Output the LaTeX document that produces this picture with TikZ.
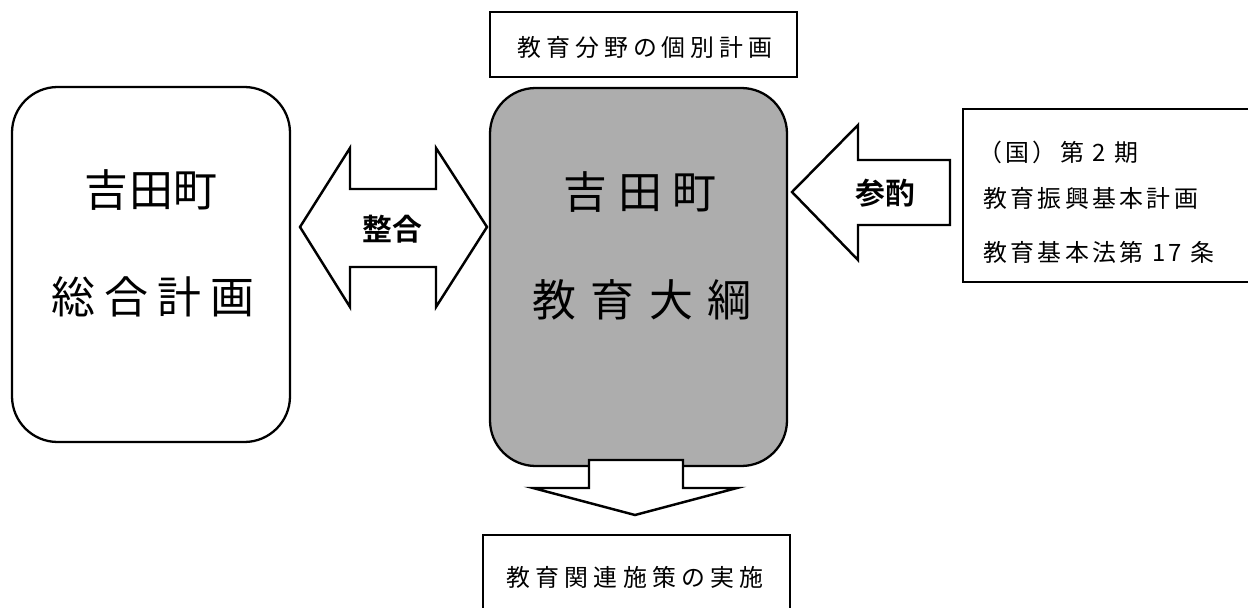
\documentclass[tikz,border=0pt]{standalone}
\usepackage{fontspec}
\newfontfamily\jp{Noto Sans CJK JP}
\newfontfamily\jpb{Noto Sans CJK JP Bold}
\tikzset{
  frame/.style={draw=black, line width=1.3pt},
  bigbox/.style={frame, rounded corners=26pt},
  arrowshape/.style={draw=black, line width=1.4pt, fill=white, line join=miter},
  bigtxt/.style={font=\jp\fontsize{25pt}{30pt}\selectfont, inner sep=0pt},
  smalltxt/.style={font=\jp\fontsize{13.6pt}{16pt}\selectfont, inner sep=0pt},
  boldtxt/.style={font=\jpb\fontsize{17pt}{20pt}\selectfont, inner sep=0pt},
}
\begin{document}
\begin{tikzpicture}[x=0.02cm,y=-0.02cm]
\useasboundingbox (0,0) rectangle (1248,608);
\clip (0,0) rectangle (1248,608);
% left box
\draw[bigbox] (12,87) rectangle (290,442);
\node[bigtxt] (l1) at (151,190) {\addfontfeature{LetterSpace=2}吉田町};
\node[bigtxt] (l2) at (153,297) {\addfontfeature{LetterSpace=20}総合計画};
% center box
\draw[bigbox, fill=black!32] (490,88) rectangle (787,466);
\node[bigtxt] (c1) at (640,192) {\addfontfeature{LetterSpace=25}吉田町};
\node[bigtxt] (c2) at (642,300) {\addfontfeature{LetterSpace=33}教育大綱};
% top box
\draw[frame] (490,12) rectangle (797,77);
\node[smalltxt] (top) at (645,47) {\addfontfeature{LetterSpace=21}教育分野の個別計画};
% double arrow
\draw[arrowshape] (300,227) -- (350,148) -- (350,189) -- (436,189) -- (436,148)
  -- (487,227) -- (436,307) -- (436,267) -- (350,267) -- (350,307) -- cycle;
\node[boldtxt] (seigo) at (392,229) {整合};
% left arrow (参酌)
\draw[arrowshape] (792,192) -- (858,125) -- (858,160) -- (950,160) -- (950,225)
  -- (858,225) -- (858,260) -- cycle;
\node[boldtxt] (sanshaku) at (885,193) {参酌};
% right box
\draw[frame] (963,109) rectangle (1260,282);
\node[smalltxt, anchor=west] (r1) at (978,152) {\addfontfeature{LetterSpace=14}（国）第 2 期};
\node[smalltxt, anchor=west] (r2) at (983,198) {\addfontfeature{LetterSpace=14}教育振興基本計画};
\node[smalltxt, anchor=west] (r3) at (983,252) {\addfontfeature{LetterSpace=14}教育基本法第 17 条};
% down arrow
\draw[arrowshape] (589,460) -- (683,460) -- (683,488) -- (737,488) -- (635,515)
  -- (533,488) -- (589,488) -- cycle;
% bottom box
\draw[frame] (483,535) rectangle (790,630);
\node[smalltxt] (bot) at (635,577) {\addfontfeature{LetterSpace=22}教育関連施策の実施};
\end{tikzpicture}
\end{document}
